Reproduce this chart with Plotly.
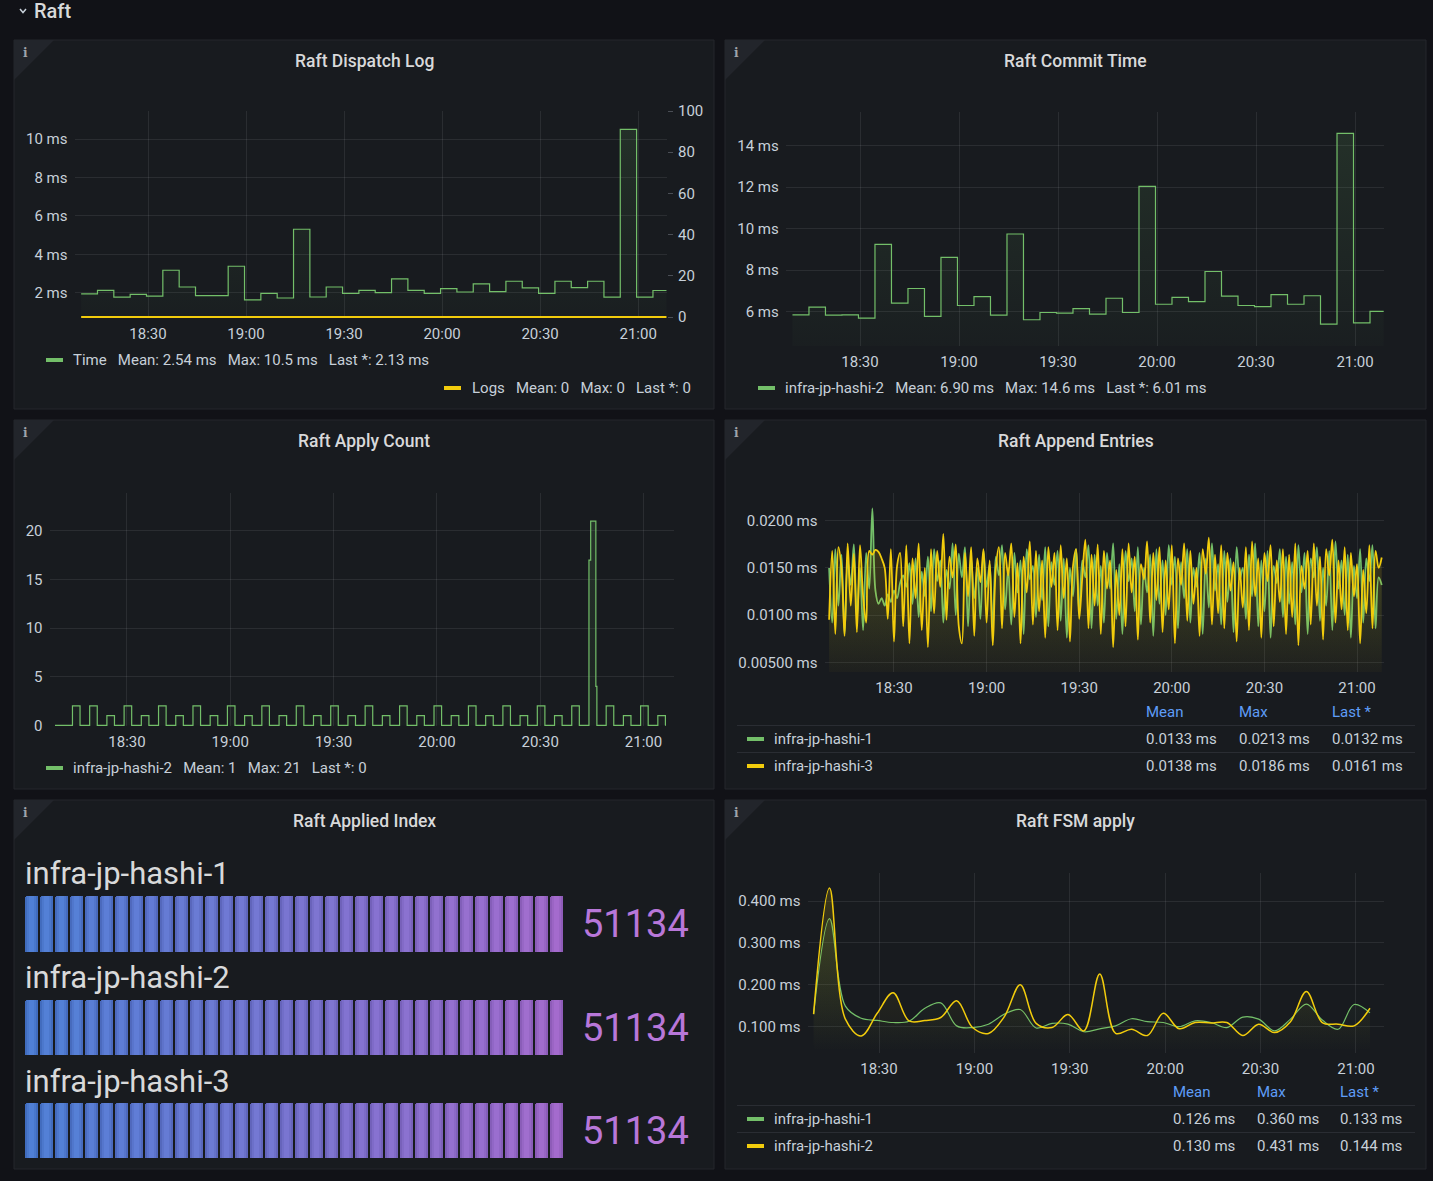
import pandas as pd
import plotly.graph_objects as go

W, H = 1433, 1181
def fx(px): return px / W
def fy(py): return 1 - py / H

DAY = "2021-06-01"

# ---------------- data ----------------
tick_labels = ["18:30", "19:00", "19:30", "20:00", "20:30", "21:00"]

step_start = "18:09:32"          # 5-minute samples (Dispatch Log / Commit Time)
step_end = "21:08:40"
dispatch_time_ms = [1.95, 2.14, 1.78, 1.93, 1.84, 3.18, 2.31, 1.86, 1.86, 3.39, 1.64, 1.98,
                    1.74, 5.31, 1.79, 2.31, 1.98, 2.14, 2.02, 2.73, 2.14, 1.98, 2.23, 2.05,
                    2.47, 2.07, 2.61, 2.26, 1.98, 2.61, 2.28, 2.61, 1.78, 10.5, 1.78, 2.13]
dispatch_logs = [0, 0, 0, 0, 0, 0, 0, 0, 0, 0, 0, 0, 0, 0, 0, 0, 0, 0,
                 0, 0, 0, 0, 0, 0, 0, 0, 0, 0, 0, 0, 0, 0, 0, 0, 0, 0]
commit_time_ms = [5.84, 6.21, 5.82, 5.84, 5.68, 9.24, 6.40, 7.11, 5.76, 8.61, 6.29, 6.72,
                  5.82, 9.74, 5.60, 5.95, 5.92, 6.14, 5.87, 6.64, 5.95, 12.04, 6.35, 6.68,
                  6.48, 7.93, 6.74, 6.29, 6.23, 6.81, 6.35, 6.76, 5.39, 14.6, 5.45, 6.01]

apply_first = "18:09:06"
apply_pulse_start = "18:14:10"   # pulses every 5 minutes
apply_last = "21:06:20"
apply_counts = [2, 2, 1, 2, 1, 2, 1, 2, 1, 2, 1, 2, 1, 2, 1, 2, 1, 2, 1, 2, 1, 2, 1, 2,
                1, 2, 1, 2, 1, 2, 21, 2, 1, 2, 1]
apply_spike_levels = [17, 21, 4, 0]
apply_spike_offsets_min = [0, 0.5, 2.0, 2.3]

append_start = "18:09:00"        # 1-minute samples
append_hashi1_ms = [
    0.0150, 0.0092, 0.0170, 0.0110, 0.0164, 0.0080, 0.0158, 0.0132, 0.0175, 0.0096, 0.0150, 0.0084, 0.0166, 0.0128, 0.0213, 0.0126, 0.0112, 0.0118, 0.0110, 0.0122,
    0.0114, 0.0126, 0.0118, 0.0134, 0.0142, 0.0130, 0.0155, 0.0112, 0.0160, 0.0098, 0.0146, 0.0120, 0.0162, 0.0104, 0.0170, 0.0136, 0.0158, 0.0092, 0.0148, 0.0128,
    0.0176, 0.0100, 0.0165, 0.0140, 0.0172, 0.0088, 0.0160, 0.0118, 0.0150, 0.0096, 0.0168, 0.0130, 0.0154, 0.0084, 0.0162, 0.0142, 0.0174, 0.0106, 0.0150, 0.0090,
    0.0166, 0.0124, 0.0158, 0.0080, 0.0170, 0.0138, 0.0152, 0.0098, 0.0164, 0.0116, 0.0172, 0.0088, 0.0156, 0.0132, 0.0168, 0.0094, 0.0160, 0.0076, 0.0150, 0.0120,
    0.0170, 0.0102, 0.0158, 0.0140, 0.0174, 0.0086, 0.0164, 0.0110, 0.0152, 0.0092, 0.0166, 0.0128, 0.0176, 0.0096, 0.0154, 0.0080, 0.0168, 0.0136, 0.0160, 0.0104,
    0.0172, 0.0090, 0.0150, 0.0124, 0.0164, 0.0078, 0.0170, 0.0112, 0.0158, 0.0100, 0.0174, 0.0132, 0.0162, 0.0086, 0.0156, 0.0118, 0.0170, 0.0092, 0.0150, 0.0130,
    0.0166, 0.0080, 0.0160, 0.0108, 0.0176, 0.0126, 0.0154, 0.0090, 0.0168, 0.0114, 0.0160, 0.0082, 0.0172, 0.0138, 0.0150, 0.0096, 0.0164, 0.0120, 0.0176, 0.0088,
    0.0158, 0.0104, 0.0168, 0.0076, 0.0152, 0.0134, 0.0170, 0.0098, 0.0162, 0.0112, 0.0156, 0.0090, 0.0174, 0.0124, 0.0166, 0.0080, 0.0160, 0.0140, 0.0172, 0.0094,
    0.0150, 0.0110, 0.0168, 0.0084, 0.0178, 0.0128, 0.0158, 0.0100, 0.0164, 0.0076, 0.0152, 0.0118, 0.0170, 0.0092, 0.0160, 0.0136, 0.0174, 0.0086, 0.0140, 0.0132]
append_hashi3_ms = [
    0.0095, 0.0168, 0.0080, 0.0172, 0.0150, 0.0078, 0.0176, 0.0110, 0.0165, 0.0082, 0.0174, 0.0120, 0.0092, 0.0168, 0.0164, 0.0169, 0.0167, 0.0160, 0.0150, 0.0096,
    0.0170, 0.0072, 0.0152, 0.0166, 0.0088, 0.0174, 0.0070, 0.0160, 0.0118, 0.0176, 0.0084, 0.0150, 0.0066, 0.0170, 0.0102, 0.0168, 0.0130, 0.0186, 0.0095, 0.0162,
    0.0140, 0.0175, 0.0088, 0.0070, 0.0166, 0.0120, 0.0172, 0.0078, 0.0160, 0.0135, 0.0170, 0.0092, 0.0158, 0.0068, 0.0150, 0.0172, 0.0086, 0.0166, 0.0142, 0.0176,
    0.0098, 0.0155, 0.0070, 0.0162, 0.0124, 0.0178, 0.0090, 0.0168, 0.0104, 0.0158, 0.0076, 0.0172, 0.0130, 0.0166, 0.0084, 0.0174, 0.0118, 0.0160, 0.0072, 0.0152,
    0.0170, 0.0096, 0.0140, 0.0180, 0.0086, 0.0164, 0.0110, 0.0175, 0.0080, 0.0168, 0.0128, 0.0158, 0.0066, 0.0148, 0.0100, 0.0170, 0.0088, 0.0176, 0.0124, 0.0162,
    0.0074, 0.0154, 0.0138, 0.0178, 0.0092, 0.0166, 0.0116, 0.0172, 0.0082, 0.0158, 0.0106, 0.0174, 0.0070, 0.0160, 0.0132, 0.0176, 0.0094, 0.0168, 0.0112, 0.0150,
    0.0078, 0.0170, 0.0144, 0.0182, 0.0090, 0.0164, 0.0102, 0.0174, 0.0086, 0.0166, 0.0126, 0.0156, 0.0072, 0.0150, 0.0108, 0.0172, 0.0084, 0.0178, 0.0120, 0.0160,
    0.0076, 0.0166, 0.0136, 0.0174, 0.0088, 0.0158, 0.0114, 0.0170, 0.0080, 0.0164, 0.0098, 0.0176, 0.0068, 0.0152, 0.0128, 0.0168, 0.0090, 0.0176, 0.0110, 0.0162,
    0.0074, 0.0170, 0.0142, 0.0180, 0.0092, 0.0158, 0.0106, 0.0172, 0.0084, 0.0166, 0.0120, 0.0154, 0.0070, 0.0148, 0.0102, 0.0174, 0.0086, 0.0168, 0.0150, 0.0161]

fsm_start = "18:09:25"           # 5-minute samples
fsm_hashi1_ms = [0.130, 0.358, 0.149, 0.120, 0.115, 0.110, 0.113, 0.144, 0.157, 0.102, 0.098, 0.106,
                 0.130, 0.141, 0.097, 0.108, 0.106, 0.088, 0.095, 0.102, 0.119, 0.112, 0.110, 0.100,
                 0.114, 0.110, 0.098, 0.123, 0.118, 0.090, 0.118, 0.154, 0.116, 0.094, 0.153, 0.133]
fsm_hashi2_ms = [0.130, 0.431, 0.118, 0.078, 0.132, 0.181, 0.114, 0.115, 0.122, 0.162, 0.098, 0.084,
                 0.124, 0.200, 0.108, 0.098, 0.129, 0.090, 0.226, 0.084, 0.094, 0.079, 0.132, 0.095,
                 0.110, 0.109, 0.110, 0.079, 0.106, 0.086, 0.112, 0.184, 0.110, 0.106, 0.102, 0.144]

hosts = ["infra-jp-hashi-1", "infra-jp-hashi-2", "infra-jp-hashi-3"]
applied_index = [51134, 51134, 51134]
gauge_max = 51134
gauge_cells = 36

legend_dispatch = [("Time", "Mean: 2.54 ms", "Max: 10.5 ms", "Last *: 2.13 ms"),
                   ("Logs", "Mean: 0", "Max: 0", "Last *: 0")]
legend_commit = ("infra-jp-hashi-2", "Mean: 6.90 ms", "Max: 14.6 ms", "Last *: 6.01 ms")
legend_apply = ("infra-jp-hashi-2", "Mean: 1", "Max: 21", "Last *: 0")
table_append = [("infra-jp-hashi-1", "0.0133 ms", "0.0213 ms", "0.0132 ms"),
                ("infra-jp-hashi-3", "0.0138 ms", "0.0186 ms", "0.0161 ms")]
table_fsm = [("infra-jp-hashi-1", "0.126 ms", "0.360 ms", "0.133 ms"),
             ("infra-jp-hashi-2", "0.130 ms", "0.431 ms", "0.144 ms")]

# ---------------- style ----------------
BG = "#111217"
PANEL = "#181b1f"
BORDER = "#24272c"
GRID = "rgba(204,204,220,0.10)"
TXT = "#c7d0d9"
TITLE = "#d8d9da"
GREEN = "#73bf69"
YELLOW = "#f2cc0c"
BLUE_HDR = "#5f9df7"
FONT = "Roboto"
FS = 15

def ts(hms):
    return pd.Timestamp(f"{DAY} {hms}")

XR = [ts("18:07:30"), ts("21:08:50")]
tick_vals = [ts(t + ":00") for t in tick_labels]

def grad(rgb, a_bot, a_top, start, stop):
    return dict(type="vertical", start=start, stop=stop,
                colorscale=[[0, f"rgba({rgb},{a_bot})"], [1, f"rgba({rgb},{a_top})"]])

fig = go.Figure()

# Panel 1: Raft Dispatch Log
t_steps = list(pd.date_range(ts(step_start), periods=len(dispatch_time_ms), freq="5min"))
fig.add_trace(go.Scatter(x=t_steps + [ts(step_end)], y=dispatch_time_ms + [dispatch_time_ms[-1]],
                         mode="lines", line=dict(color=GREEN, width=1.2, shape="hv"),
                         fill="tozeroy", fillgradient=grad("115,191,105", 0.02, 0.14, 0.7, 11.4),
                         xaxis="x", yaxis="y", name="Time"))
fig.add_trace(go.Scatter(x=t_steps + [ts(step_end)], y=dispatch_logs + [dispatch_logs[-1]],
                         mode="lines", line=dict(color=YELLOW, width=2, shape="hv"),
                         xaxis="x", yaxis="y2", name="Logs"))

# Panel 2: Raft Commit Time
t_steps2 = list(pd.date_range(ts(step_start), periods=len(commit_time_ms), freq="5min"))
fig.add_trace(go.Scatter(x=t_steps2 + [ts(step_end)], y=commit_time_ms + [commit_time_ms[-1]],
                         mode="lines", line=dict(color=GREEN, width=1.2, shape="hv"),
                         fill="tozeroy", fillgradient=grad("115,191,105", 0.02, 0.14, 4.3, 15.6),
                         xaxis="x2", yaxis="y3", name="infra-jp-hashi-2"))

# Panel 3: Raft Apply Count
ap_t = [ts(apply_first)]
ap_v = [0]
p0 = ts(apply_pulse_start)
for k, v in enumerate(apply_counts):
    tk = p0 + pd.Timedelta(minutes=5 * k)
    if v == max(apply_counts):
        for off, lvl in zip(apply_spike_offsets_min, apply_spike_levels):
            ap_t.append(tk + pd.Timedelta(minutes=off))
            ap_v.append(lvl)
    else:
        ap_t += [tk, tk + pd.Timedelta(minutes=2.2)]
        ap_v += [v, 0]
ap_t.append(ts(apply_last))
ap_v.append(0)
fig.add_trace(go.Scatter(x=ap_t, y=ap_v, mode="lines", line=dict(color=GREEN, width=1.2, shape="hv"),
                         fill="tozeroy", fillgradient=grad("115,191,105", 0.03, 0.16, 0, 22),
                         xaxis="x3", yaxis="y4", name="infra-jp-hashi-2"))

# Panel 4: Raft Append Entries
t_app = list(pd.date_range(ts(append_start), periods=len(append_hashi1_ms), freq="1min"))
fig.add_trace(go.Scatter(x=t_app, y=append_hashi1_ms, mode="lines",
                         line=dict(color=GREEN, width=1.8, shape="spline"),
                         fill="tozeroy", fillgradient=grad("115,191,105", 0.0, 0.10, 0.004, 0.018),
                         xaxis="x4", yaxis="y5", name="infra-jp-hashi-1"))
fig.add_trace(go.Scatter(x=t_app, y=append_hashi3_ms, mode="lines",
                         line=dict(color=YELLOW, width=1.8, shape="spline"),
                         fill="tozeroy", fillgradient=grad("242,204,12", 0.03, 0.18, 0.004, 0.018),
                         xaxis="x4", yaxis="y5", name="infra-jp-hashi-3"))

# Panel 6: Raft FSM apply
t_fsm = list(pd.date_range(ts(fsm_start), periods=len(fsm_hashi1_ms), freq="5min"))
fig.add_trace(go.Scatter(x=t_fsm, y=fsm_hashi1_ms, mode="lines",
                         line=dict(color=GREEN, width=1.2, shape="spline"),
                         fill="tozeroy", fillgradient=grad("115,191,105", 0.0, 0.12, 0.04, 0.36),
                         xaxis="x8", yaxis="y9", name="infra-jp-hashi-1"))
fig.add_trace(go.Scatter(x=t_fsm, y=fsm_hashi2_ms, mode="lines",
                         line=dict(color=YELLOW, width=1.5, shape="spline"),
                         fill="tozeroy", fillgradient=grad("242,204,12", 0.0, 0.16, 0.04, 0.43),
                         xaxis="x8", yaxis="y9", name="infra-jp-hashi-2"))

# Panel 5: Raft Applied Index (LCD bar gauges)
def mix(c0, c1, f):
    return "rgb(%d,%d,%d)" % tuple(round(a + (b - a) * f) for a, b in zip(c0, c1))

for i, val in enumerate(applied_index):
    lit = round(gauge_cells * val / gauge_max)
    cells = list(range(1, gauge_cells + 1))
    base = [mix((64, 108, 190), (142, 92, 184), (c - 1) / (gauge_cells - 1)) for c in cells]
    glow = [mix((96, 150, 240), (186, 124, 226), (c - 1) / (gauge_cells - 1)) for c in cells]
    on = [1 if c <= lit else 0 for c in cells]
    xa, ya = f"x{5 + i}", f"y{6 + i}"
    fig.add_trace(go.Bar(x=cells, y=on, width=0.87, marker=dict(color=base, line_width=0, cornerradius=2),
                         xaxis=xa, yaxis=ya, hoverinfo="skip"))
    fig.add_trace(go.Bar(x=cells, y=on, width=0.62, marker=dict(color=glow, line_width=0, opacity=0.3),
                         xaxis=xa, yaxis=ya, hoverinfo="skip"))
    fig.add_trace(go.Bar(x=cells, y=on, width=0.32, marker=dict(color=glow, line_width=0, opacity=0.3),
                         xaxis=xa, yaxis=ya, hoverinfo="skip"))

# ---------------- axes ----------------
def taxis(px0, px1, anchor):
    return dict(domain=[fx(px0), fx(px1)], anchor=anchor, type="date", range=XR,
                tickvals=tick_vals, ticktext=tick_labels, showgrid=True, gridcolor=GRID,
                zeroline=False, showline=False, ticks="", tickfont=dict(size=FS, color=TXT),
                ticklabelstandoff=5, automargin=False, fixedrange=True)

def vaxis(py_top, py_bot, anchor, rng, vals, texts, **kw):
    d = dict(domain=[fy(py_bot), fy(py_top)], anchor=anchor, range=rng, tickvals=vals,
             ticktext=texts, showgrid=True, gridcolor=GRID, zeroline=False, showline=False,
             ticks="", tickfont=dict(size=FS, color=TXT), ticklabelstandoff=6, automargin=False,
             fixedrange=True)
    d.update(kw)
    return d

layout = dict(
    width=W, height=H, margin=dict(l=0, r=0, t=0, b=0, pad=0, autoexpand=False),
    paper_bgcolor=BG, plot_bgcolor="rgba(0,0,0,0)", showlegend=False,
    font=dict(family=FONT, color=TXT, size=FS), barmode="overlay", bargap=0,
    xaxis=taxis(74.5, 667, "y"),
    yaxis=vaxis(111, 318, "x", [0.70, 11.455], [2, 4, 6, 8, 10], ["2 ms", "4 ms", "6 ms", "8 ms", "10 ms"]),
    yaxis2=dict(overlaying="y", side="right", anchor="x", range=[-0.485, 100],
                tickvals=[0, 20, 40, 60, 80, 100], showgrid=False, zeroline=False, showline=False,
                ticks="outside", ticklen=5, tickcolor="#4a4e55", tickfont=dict(size=FS, color=TXT),
                ticklabelstandoff=2, automargin=False, fixedrange=True),
    xaxis2=taxis(785.75, 1384.2, "y3"),
    yaxis3=vaxis(112, 346, "x2", [4.334, 15.63], [6, 8, 10, 12, 14], ["6 ms", "8 ms", "10 ms", "12 ms", "14 ms"]),
    xaxis3=taxis(49.5, 673.9, "y4"),
    yaxis4=vaxis(493, 726.3, "x3", [-0.103, 23.9], [0, 5, 10, 15, 20], ["0", "5", "10", "15", "20"]),
    xaxis4=taxis(824.5, 1384.3, "y5"),
    yaxis5=vaxis(493, 672, "x4", [0.003973, 0.022936], [0.005, 0.010, 0.015, 0.020],
                 ["0.00500 ms", "0.0100 ms", "0.0150 ms", "0.0200 ms"]),
    xaxis8=taxis(807.5, 1384, "y9"),
    yaxis9=vaxis(873, 1053, "x8", [0.0372, 0.467], [0.1, 0.2, 0.3, 0.4],
                 ["0.100 ms", "0.200 ms", "0.300 ms", "0.400 ms"]),
)
gauge_rows = [(896, 952), (1000, 1055), (1103, 1158)]
for i, (t, b) in enumerate(gauge_rows):
    layout[f"xaxis{5 + i}"] = dict(domain=[fx(24), fx(564)], anchor=f"y{6 + i}", range=[0.5, gauge_cells + 0.5],
                                   visible=False, automargin=False, fixedrange=True)
    layout[f"yaxis{6 + i}"] = dict(domain=[fy(b), fy(t)], anchor=f"x{5 + i}", range=[0, 1],
                                   visible=False, automargin=False, fixedrange=True)
fig.update_layout(**layout)

# ---------------- panels, titles, legends ----------------
shapes, ann = [], []
PAD = 2   # plotly annotation inner padding

def rect(x0, y0, x1, y1, fill, line=None, lw=0, layer="below"):
    shapes.append(dict(type="rect", xref="paper", yref="paper", x0=fx(x0), x1=fx(x1), y0=fy(y1), y1=fy(y0),
                       fillcolor=fill, line=dict(color=line or fill, width=lw), layer=layer))

def text(x, y, s, size=FS, color=TXT, anchor="left", weight=None, family=FONT):
    f = dict(size=size, color=color, family=family)
    if weight:
        f["weight"] = weight
    xx = x - PAD if anchor == "left" else (x + PAD if anchor == "right" else x)
    ann.append(dict(xref="paper", yref="paper", x=fx(xx), y=fy(y), text=s, showarrow=False,
                    xanchor=anchor, yanchor="middle", font=f))

panels = [(14, 40, 714, 409, "Raft Dispatch Log"), (725, 40, 1426, 409, "Raft Commit Time"),
          (14, 420, 714, 789, "Raft Apply Count"), (725, 420, 1426, 789, "Raft Append Entries"),
          (14, 800, 714, 1169, "Raft Applied Index"), (725, 800, 1426, 1169, "Raft FSM apply")]
for x0, y0, x1, y1, title in panels:
    rect(x0, y0, x1, y1, PANEL, BORDER, 1)
    shapes.append(dict(type="path", xref="paper", yref="paper", layer="below",
                       path=f"M {fx(x0)},{fy(y0)} L {fx(x0 + 40)},{fy(y0)} L {fx(x0)},{fy(y0 + 40)} Z",
                       fillcolor="#22252b", line=dict(width=0)))
    text(x0 + 11, y0 + 13, "i", size=12, color="#9fa4ab", anchor="center", weight="bold", family="DejaVu Serif")
    text((x0 + x1) / 2, y0 + 21, title, size=17.5, color=TITLE, anchor="center", weight=500)

# row header
shapes.append(dict(type="path", xref="paper", yref="paper",
                   path=f"M {fx(20)},{fy(9)} L {fx(23)},{fy(12.5)} L {fx(26)},{fy(9)}",
                   line=dict(color="#c7d0d9", width=1.5)))
text(34, 11, "Raft", size=20, color=TITLE, weight=500)

NB = "\u00a0\u00a0\u00a0"
def legend_line(x_sw, y, color, parts, anchor="left", x_text=None):
    rect(x_sw, y - 2, x_sw + 17, y + 2, color, layer="above")
    text(x_text if x_text is not None else x_sw + 27, y, NB.join(parts), anchor=anchor)

legend_line(46, 360, GREEN, legend_dispatch[0])
legend_line(444, 388, YELLOW, legend_dispatch[1], anchor="right", x_text=691)
legend_line(758, 388, GREEN, legend_commit)
legend_line(46, 768, GREEN, legend_apply)

def table(hdr_y, row_ys, sep_ys, cols_x, rows, colors):
    for cx, h in zip(cols_x, ["Mean", "Max", "Last *"]):
        text(cx, hdr_y, h, color=BLUE_HDR)
    for sy in sep_ys:
        shapes.append(dict(type="line", xref="paper", yref="paper", x0=fx(737), x1=fx(1415),
                           y0=fy(sy), y1=fy(sy), line=dict(color="#2a2d33", width=1)))
    for ry, row, col in zip(row_ys, rows, colors):
        rect(747, ry - 2, 764, ry + 2, col, layer="above")
        text(774, ry, row[0])
        for cx, v in zip(cols_x, row[1:]):
            text(cx, ry, v)

table(712, [739, 766], [725.5, 752.5], [1146, 1239, 1332], table_append, [GREEN, YELLOW])
table(1092, [1119, 1146], [1105.5, 1132.5], [1173, 1257, 1340], table_fsm, [GREEN, YELLOW])

# bar gauge labels & values
label_ys = [873, 977, 1081]
for (t, b), ly, host, val in zip(gauge_rows, label_ys, hosts, applied_index):
    text(25, ly, host, size=31, color="#d8d9da")
    text(582, (t + b) / 2, str(val), size=38, color="#b877d9")

fig.update_layout(shapes=shapes, annotations=ann)

fig.write_html("out.html", config={"displayModeBar": False},
               post_script="document.body.style.margin='0';document.body.style.background='#111217';")
